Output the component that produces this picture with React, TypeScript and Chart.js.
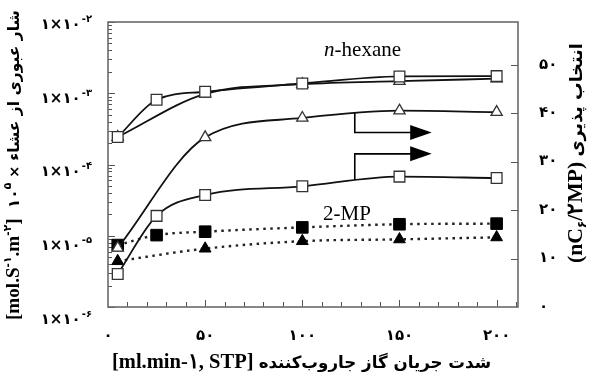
import React, { useEffect, useRef } from 'react';
import { Chart, registerables } from 'chart.js';

Chart.register(...registerables);

// ---- data ----
const flowRates = [5, 25, 50, 100, 150, 200];
const flowRatesShort = [5, 50, 100, 150, 200];

const hexaneFluxSquares = [2.43e-4, 8.1e-4, 1.05e-3, 1.37e-3, 1.72e-3, 1.74e-3];
const hexaneFluxTriangles = [2.43e-4, 9.8e-4, 1.34e-3, 1.48e-3, 1.6e-3];
const selectivityTriangles = [12.2, 35, 39, 40.5, 40.2];
const selectivitySquares = [6.8, 18.8, 23.1, 24.9, 26.9, 26.6];
const mpFluxSquares = [7.4e-6, 1.02e-5, 1.14e-5, 1.31e-5, 1.45e-5, 1.48e-5];
const mpFluxTriangles = [4.4e-6, 6.6e-6, 8.4e-6, 8.9e-6, 9.5e-6];

const xTickValues = [0, 50, 100, 150, 200];
const xTickLabels = ['۰', '۵۰', '۱۰۰', '۱۵۰', '۲۰۰'];
const rightTickValues = [0, 10, 20, 30, 40, 50];
const rightTickLabels = ['۰', '۱۰', '۲۰', '۳۰', '۴۰', '۵۰'];
const leftTickValues = [1e-2, 1e-3, 1e-4, 1e-5, 1e-6];
const leftTickBase = '۱×۱۰';
const leftTickExponents = ['-۲', '-۳', '-۴', '-۵', '-۶'];

// annotation anchors in data units (x, right-axis value)
const upperArrow = { x: 127, yCurve: 40, yLine: 36, xBase: 155.5, xTip: 166.6 };
const lowerArrow = { x: 127, yCurve: 26.2, yLine: 31.6, xBase: 155.5, xTip: 166.6 };
const hexaneLabelPos = { x: 131, y: 53 };
const mpLabelPos = { x: 123, y: 19 };

const SERIF = '"Liberation Serif", "Times New Roman", serif';
const SANS = '"DejaVu Sans", sans-serif';

type Seg = { t: string; f: 'serif' | 'sans'; s: number; dy?: number; italic?: boolean };

function drawSegs(ctx: CanvasRenderingContext2D, segs: Seg[], cx: number, cy: number, target: number | null) {
  const fontFor = (seg: Seg, k: number) =>
    `${seg.italic ? 'italic ' : ''}bold ${seg.s * k}px ${seg.f === 'serif' ? SERIF : SANS}`;
  let total = 0;
  for (const seg of segs) {
    ctx.font = fontFor(seg, 1);
    total += ctx.measureText(seg.t).width;
  }
  const k = target ? target / total : 1;
  const width = total * k;
  let x = cx - width / 2;
  ctx.textAlign = 'left';
  ctx.textBaseline = 'alphabetic';
  ctx.direction = 'ltr';
  for (const seg of segs) {
    ctx.font = fontFor(seg, k);
    ctx.fillText(seg.t, x, cy + (seg.dy || 0) * k);
    x += ctx.measureText(seg.t).width;
  }
}

const decorations = {
  id: 'decorations',
  beforeDatasetsDraw(chart: any) {
    const { ctx, chartArea: a, scales } = chart;
    const xs = scales.x, yl = scales.y, yr = scales.y2;
    ctx.save();
    ctx.strokeStyle = '#555';
    ctx.lineWidth = 1;
    // left log ticks (inward)
    for (let d = -6; d <= -2; d++) {
      for (let k = 1; k <= 9; k++) {
        const v = k * Math.pow(10, d);
        if (v > 1.0001e-2) break;
        const y = Math.round(yl.getPixelForValue(v)) + 0.5;
        const len = k === 1 ? 7 : 4;
        ctx.beginPath();
        ctx.moveTo(a.left, y);
        ctx.lineTo(a.left + len, y);
        ctx.stroke();
      }
    }
    // bottom ticks
    for (let v = 10; v <= 210; v += 10) {
      const x = Math.round(xs.getPixelForValue(v)) + 0.5;
      const len = v % 50 === 0 ? 7 : 5;
      ctx.beginPath();
      ctx.moveTo(x, a.bottom);
      ctx.lineTo(x, a.bottom - len);
      ctx.stroke();
    }
    // right ticks
    for (const v of rightTickValues) {
      if (v === 0) continue;
      const y = Math.round(yr.getPixelForValue(v)) + 0.5;
      ctx.beginPath();
      ctx.moveTo(a.right, y);
      ctx.lineTo(a.right - 7, y);
      ctx.stroke();
    }
    // frame
    ctx.strokeStyle = '#6a6a6a';
    ctx.lineWidth = 1.6;
    ctx.strokeRect(a.left, a.top, a.right - a.left, a.bottom - a.top);
    ctx.restore();
  },
  afterDatasetsDraw(chart: any) {
    const { ctx, chartArea: a, scales } = chart;
    const xs = scales.x, yl = scales.y, yr = scales.y2;
    ctx.save();
    ctx.fillStyle = '#000';
    ctx.strokeStyle = '#000';

    // arrows
    const drawArrow = (ar: typeof upperArrow) => {
      const x0 = xs.getPixelForValue(ar.x);
      const yc = yr.getPixelForValue(ar.yCurve);
      const yl2 = yr.getPixelForValue(ar.yLine);
      const xb = xs.getPixelForValue(ar.xBase);
      const xt = xs.getPixelForValue(ar.xTip);
      ctx.lineWidth = 1.6;
      ctx.beginPath();
      ctx.moveTo(x0, yc);
      ctx.lineTo(x0, yl2);
      ctx.lineTo(xb + 1, yl2);
      ctx.stroke();
      ctx.beginPath();
      ctx.moveTo(xb, yl2 - 7.5);
      ctx.lineTo(xt, yl2);
      ctx.lineTo(xb, yl2 + 7.5);
      ctx.closePath();
      ctx.fill();
    };
    drawArrow(upperArrow);
    drawArrow(lowerArrow);

    // series labels
    ctx.textBaseline = 'middle';
    ctx.textAlign = 'left';
    {
      const cx = xs.getPixelForValue(hexaneLabelPos.x);
      const cy = yr.getPixelForValue(hexaneLabelPos.y);
      ctx.font = `italic 21px ${SERIF}`;
      const w1 = ctx.measureText('n').width;
      ctx.font = `21px ${SERIF}`;
      const w2 = ctx.measureText('-hexane').width;
      const x = cx - (w1 + w2) / 2;
      ctx.font = `italic 21px ${SERIF}`;
      ctx.fillText('n', x, cy);
      ctx.font = `21px ${SERIF}`;
      ctx.fillText('-hexane', x + w1, cy);
    }
    {
      const cx = xs.getPixelForValue(mpLabelPos.x);
      const cy = yr.getPixelForValue(mpLabelPos.y);
      ctx.font = `21px ${SERIF}`;
      ctx.textAlign = 'center';
      ctx.fillText('2-MP', cx, cy);
    }

    // left tick labels
    leftTickValues.forEach((v, i) => {
      const ty = yl.getPixelForValue(v);
      const y = ty + 7 + (ty - a.top) * 0.035;
      ctx.textAlign = 'right';
      ctx.textBaseline = 'alphabetic';
      ctx.font = `bold 10px ${SANS}`;
      const we = ctx.measureText(leftTickExponents[i]).width;
      ctx.fillText(leftTickExponents[i], 92, y - 7);
      ctx.font = `bold 15px ${SANS}`;
      ctx.fillText(leftTickBase, 92 - we - 1, y);
    });

    // left title (rotated)
    ctx.save();
    ctx.translate(19, 165);
    ctx.rotate(-Math.PI / 2);
    drawSegs(ctx, [
      { t: '[mol.S', f: 'serif', s: 16 },
      { t: '-۱', f: 'sans', s: 9, dy: -7 },
      { t: '.m', f: 'serif', s: 16 },
      { t: '-۲', f: 'sans', s: 9, dy: -7 },
      { t: '] ', f: 'serif', s: 16 },
      { t: ' ۱۰', f: 'sans', s: 13 },
      { t: '۵', f: 'sans', s: 9, dy: -7 },
      { t: ' × ', f: 'sans', s: 12 },
      { t: 'شار عبوری از عشاء', f: 'sans', s: 13 },
    ], 0, 0, 310);
    ctx.restore();

    // right title (rotated)
    ctx.save();
    ctx.translate(582, 153);
    ctx.rotate(-Math.PI / 2);
    drawSegs(ctx, [
      { t: '(nC', f: 'serif', s: 16 },
      { t: '۶', f: 'sans', s: 9, dy: 3 },
      { t: '/۲MP) ', f: 'serif', s: 16 },
      { t: 'انتخاب پذیری', f: 'sans', s: 13 },
    ], 0, 0, 220);
    ctx.restore();

    // x title
    drawSegs(ctx, [
      { t: '[ml.min-۱, STP] ', f: 'serif', s: 16 },
      { t: 'شدت جریان گاز جاروب‌کننده', f: 'sans', s: 13 },
    ], 302, 368, 380);

    ctx.restore();
  },
};

function pts(xs: number[], ys: number[]) {
  return xs.map((x, i) => ({ x, y: ys[i] }));
}

export default function App() {
  const ref = useRef<HTMLCanvasElement | null>(null);
  useEffect(() => {
    document.body.style.margin = '0';
    const canvas = ref.current!;
    const openMarker = { pointBackgroundColor: '#fff', pointBorderColor: '#333', pointBorderWidth: 1.3 };
    const solidLine = { borderColor: '#111', borderWidth: 1.8, cubicInterpolationMode: 'monotone' as const, fill: false };
    const dotLine = { borderColor: '#222', borderWidth: 2.4, borderDash: [2.5, 4.5], cubicInterpolationMode: 'monotone' as const, fill: false };
    const chart = new Chart(canvas, {
      type: 'line',
      data: {
        datasets: [
          { label: 'n-hexane flux (sq)', data: pts(flowRates, hexaneFluxSquares), yAxisID: 'y', ...solidLine, pointStyle: 'rect', pointRadius: 7.6, ...openMarker },
          { label: 'n-hexane flux (tri)', data: pts(flowRatesShort, hexaneFluxTriangles), yAxisID: 'y', ...solidLine, pointStyle: 'triangle', pointRadius: 6.5, ...openMarker },
          { label: 'selectivity (tri)', data: pts(flowRatesShort, selectivityTriangles), yAxisID: 'y2', ...solidLine, pointStyle: 'triangle', pointRadius: 6.5, ...openMarker },
          { label: 'selectivity (sq)', data: pts(flowRates, selectivitySquares), yAxisID: 'y2', ...solidLine, pointStyle: 'rect', pointRadius: 7.6, ...openMarker },
          { label: '2-MP flux (sq)', data: pts(flowRates, mpFluxSquares), yAxisID: 'y', ...dotLine, pointStyle: 'rect', pointRadius: 8.2, pointBackgroundColor: '#000', pointBorderColor: '#000', pointBorderWidth: 1 },
          { label: '2-MP flux (tri)', data: pts(flowRatesShort, mpFluxTriangles), yAxisID: 'y', ...dotLine, pointStyle: 'triangle', pointRadius: 6.8, pointBackgroundColor: '#000', pointBorderColor: '#000', pointBorderWidth: 1 },
        ],
      },
      options: {
        animation: false,
        responsive: false,
        devicePixelRatio: 1,
        layout: { padding: { top: 13, left: 0, right: 0, bottom: 0 } },
        plugins: { legend: { display: false }, tooltip: { enabled: false } },
        font: { family: SANS },
        scales: {
          x: {
            type: 'linear',
            min: 0,
            max: 211,
            grid: { display: false },
            border: { display: false },
            afterFit: (s: any) => { s.height = 69; },
            afterBuildTicks: (s: any) => { s.ticks = xTickValues.map((v) => ({ value: v })); },
            ticks: {
              autoSkip: false,
              maxRotation: 0,
              padding: 12,
              color: '#000',
              font: { family: SANS, size: 15, weight: 'bold' },
              callback: (v: any) => xTickLabels[xTickValues.indexOf(Number(v))] ?? '',
            },
          },
          y: {
            type: 'logarithmic',
            position: 'left',
            min: 1e-6,
            max: 1e-2,
            grid: { display: false },
            border: { display: false },
            afterFit: (s: any) => { s.width = 108; },
            ticks: { display: false },
          },
          y2: {
            type: 'linear',
            position: 'right',
            min: 0,
            max: 58.8,
            grid: { display: false },
            border: { display: false },
            afterFit: (s: any) => { s.width = 77; },
            afterBuildTicks: (s: any) => { s.ticks = rightTickValues.map((v) => ({ value: v })); },
            ticks: {
              padding: 13,
              color: '#000',
              font: { family: SANS, size: 15, weight: 'bold' },
              callback: (v: any) => rightTickLabels[rightTickValues.indexOf(Number(v))] ?? '',
            },
          },
        },
      } as any,
      plugins: [decorations],
    });
    return () => chart.destroy();
  }, []);
  return <canvas ref={ref} width={595} height={376} style={{ display: 'block', width: 595, height: 376 }} />;
}
